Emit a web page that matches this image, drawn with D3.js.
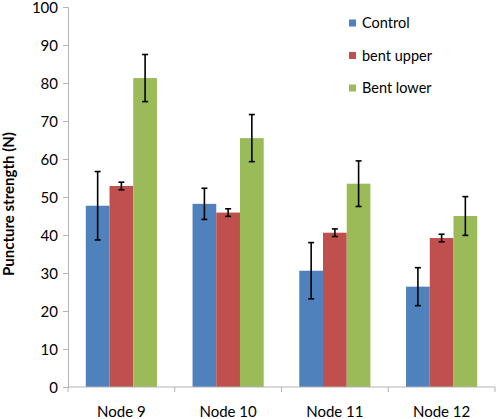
<!DOCTYPE html>
<html><head><meta charset="utf-8">
<script src="https://cdn.jsdelivr.net/npm/d3@7"></script>
<style>body{margin:0;background:#fff}svg{display:block}</style>
</head><body><svg id="c" width="498" height="419"></svg>
<script>
const categories = ["Node 9", "Node 10", "Node 11", "Node 12"];
const seriesNames = ["Control", "bent upper", "Bent lower"];
const control = [47.7, 48.2, 30.6, 26.4];
const bentUpper = [52.9, 45.9, 40.6, 39.2];
const bentLower = [81.3, 65.5, 53.5, 45.0];
const controlErr = [9.0, 4.1, 7.4, 5.0];
const bentUpperErr = [1.0, 1.0, 1.0, 1.0];
const bentLowerErr = [6.2, 6.2, 6.0, 5.1];
const yTicks = [0, 10, 20, 30, 40, 50, 60, 70, 80, 90, 100];
const colors = ["#4F81BD", "#C0504D", "#9BBB59"];

const values = [control, bentUpper, bentLower];
const errs = [controlErr, bentUpperErr, bentLowerErr];
const font = "Lato, 'Open Sans', sans-serif";

const svg = d3.select("#c");
const mLeft = 68, mRight = 495, mTop = 7, mBottom = 387;
const x = d3.scaleBand().domain(categories).range([mLeft, mRight]).paddingInner(0).paddingOuter(0);
const inner = d3.scaleBand().domain(d3.range(3)).range([0, x.bandwidth()]).paddingOuter(0.75).paddingInner(0);
const y = d3.scaleLinear().domain([0, 100]).range([mBottom, mTop]);

// y axis
const yAxis = svg.append("g").attr("transform", `translate(${mLeft},0)`)
  .call(d3.axisLeft(y).tickValues(yTicks).tickSize(5).tickPadding(5));
yAxis.select(".domain").attr("stroke", "#b3b3b3");
yAxis.selectAll(".tick line").attr("stroke", "#b3b3b3");
yAxis.selectAll("text").attr("font-family", font).attr("font-size", 15).attr("fill", "#000")
  .attr("dy", "0.36em");

// bars
categories.forEach((c, i) => {
  values.forEach((s, j) => {
    const bx = x(c) + inner(j);
    svg.append("rect").attr("x", bx).attr("y", y(s[i])).attr("width", inner.bandwidth())
      .attr("height", y(0) - y(s[i])).attr("fill", colors[j]);
  });
});

// x axis
const xAxis = svg.append("g").attr("transform", `translate(0,${mBottom})`)
  .call(d3.axisBottom(x).tickSize(0).tickPadding(19));
xAxis.select(".domain").attr("stroke", "#b3b3b3").attr("d", `M${mLeft},0H${mRight}`);
xAxis.selectAll("text").attr("font-family", font).attr("font-size", 15).attr("fill", "#000");
const bounds = categories.map(c => x(c)).concat([mRight]);
svg.append("g").selectAll("line").data(bounds).join("line")
  .attr("x1", d => d).attr("x2", d => d).attr("y1", mBottom).attr("y2", mBottom + 5)
  .attr("stroke", "#b3b3b3");

// error bars
categories.forEach((c, i) => {
  values.forEach((s, j) => {
    const cx = x(c) + inner(j) + inner.bandwidth() / 2;
    const hi = y(s[i] + errs[j][i]), lo = y(s[i] - errs[j][i]);
    const g = svg.append("g").attr("stroke", "#000").attr("stroke-width", 1.6);
    g.append("line").attr("x1", cx).attr("x2", cx).attr("y1", hi).attr("y2", lo);
    g.append("line").attr("x1", cx - 3).attr("x2", cx + 3).attr("y1", hi).attr("y2", hi);
    g.append("line").attr("x1", cx - 3).attr("x2", cx + 3).attr("y1", lo).attr("y2", lo);
  });
});

// y title
svg.append("text").attr("transform", `translate(14,204) rotate(-90)`)
  .attr("text-anchor", "middle").attr("font-family", font).attr("font-weight", "bold")
  .attr("font-size", 15).text("Puncture strength (N)");

// legend
const leg = svg.append("g");
seriesNames.forEach((n, j) => {
  const ly = 23 + j * 32.5;
  leg.append("rect").attr("x", 349).attr("y", ly - 3.5).attr("width", 7).attr("height", 7).attr("fill", colors[j]);
  leg.append("text").attr("x", 362).attr("y", ly).attr("dy", "0.35em")
    .attr("font-family", font).attr("font-size", 14.5).text(n);
});
</script></body></html>
